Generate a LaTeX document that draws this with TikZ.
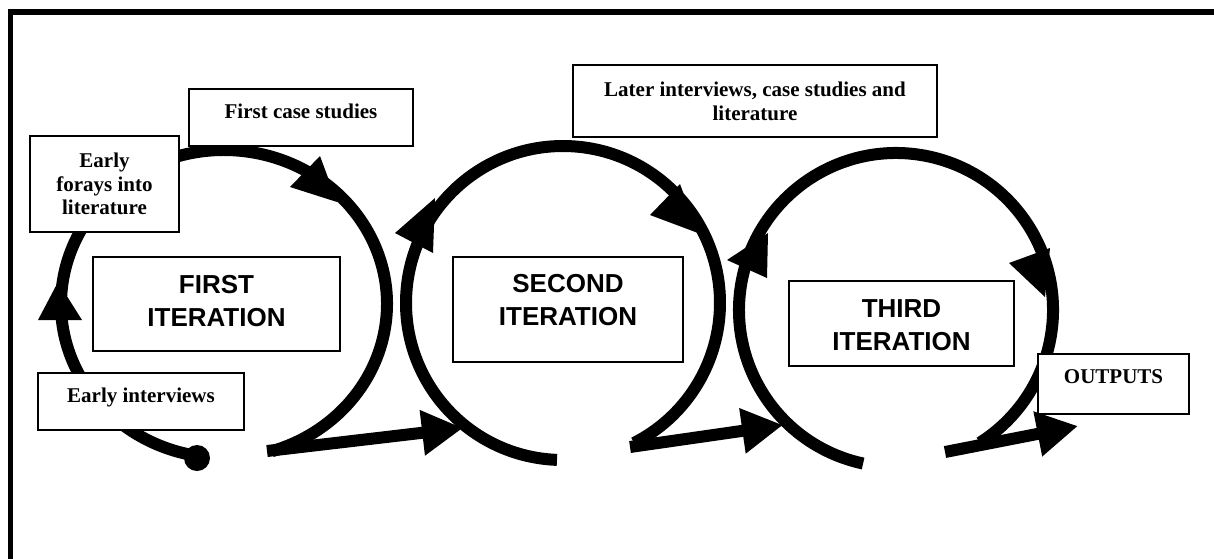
\documentclass[tikz,border=0pt]{standalone}
\usepackage{fontspec}
\setmainfont{Liberation Serif}
\newfontfamily\arialfont{Liberation Sans}
\usetikzlibrary{arrows.meta}
\begin{document}
\begin{tikzpicture}[x=0.5pt,y=-0.5pt,
  box/.style={draw, line width=0.65pt, fill=white, inner sep=0pt, outer sep=0pt},
  tnr/.style={box, font=\fontsize{10.5pt}{11.8pt}\selectfont\bfseries},
  iter/.style={box, font=\fontsize{13pt}{16.5pt}\selectfont\arialfont\bfseries},
  ring/.style={line width=6pt, line cap=butt},
  flow/.style={line width=6pt, line cap=butt, -{Triangle[length=20.5pt,width=21.5pt]}},
  head/.style={fill=black},
  frame/.style={line width=2.8pt}]
\useasboundingbox (0,0) rectangle (1214,558);
% frame (left and top edges only)
\draw[frame] (10.5,600) -- (10.5,12) -- (1240,12);

% ---- first loop ----
\coordinate (dot) at (197,458);
\draw[ring] (224,304) ++(98.5:163 and 154) arc[start angle=98.5, end angle=432.9, x radius=163, y radius=154];
\fill (dot) circle[radius=13];
\fill[head] (38,320) -- (82,320) -- (58,282) -- cycle;
\fill[head] (320,156) -- (290,187) -- (337,202) -- cycle;

% ---- second loop ----
\draw[ring] (563,303) ++(92.2:157) arc[start angle=92.2, end angle=423.1, radius=157];
\fill[head] (395,233) -- (433,253) -- (435,198) -- cycle;
\fill[head] (680,184) -- (650,215) -- (698,233) -- cycle;

% ---- third loop ----
\draw[ring] (896,310) ++(102.1:157) arc[start angle=102.1, end angle=417.7, radius=157];
\fill[head] (727,260) -- (767,278) -- (768,233) -- cycle;
\fill[head] (1009,263) -- (1050,248) -- (1045,297) -- cycle;

% ---- straight connectors ----
\coordinate (l1s) at (267,451);
\coordinate (l1e) at (463,428);
\coordinate (l2s) at (630,447);
\coordinate (l2e) at (783,425);
\coordinate (l3s) at (945,452);
\coordinate (l3e) at (1078,426);
\draw[flow] (l1s) -- (l1e);
\draw[flow] (l2s) -- (l2e);
\draw[flow] (l3s) -- (l3e);

% ---- boxes ----
\node[tnr, minimum width=112pt, minimum height=28.5pt, text height=7pt, text depth=6.5pt] (fcs) at (301,117.5) {First case studies};
\node[tnr, align=center, minimum width=74.5pt, minimum height=48pt] (efl) at (104.5,184) {Early\\forays into\\literature};
\node[tnr, minimum width=103pt, minimum height=28.5pt, text height=7pt, text depth=6pt] (ei) at (141,401.5) {Early interviews};
\node[tnr, align=center, minimum width=182pt, minimum height=36pt, font=\fontsize{10.5pt}{12pt}\selectfont\bfseries] (lat) at (755,101) {Later interviews, case studies and\\literature};
\node[tnr, minimum width=75.5pt, minimum height=30pt, text height=7pt, text depth=8pt] (out) at (1113.5,384) {OUTPUTS};

\node[iter, minimum width=123.5pt, minimum height=47pt, text height=22.3pt, text depth=0pt] (fi) at (216.5,304) {\begin{tabular}[b]{@{}c@{}}FIRST\\ITERATION\end{tabular}};
\node[iter, minimum width=115pt, minimum height=52.5pt, text height=16.3pt, text depth=0pt] (si) at (568,309.5) {\begin{tabular}[b]{@{}c@{}}SECOND\\ITERATION\end{tabular}};
\node[iter, minimum width=112.5pt, minimum height=42.5pt, text height=27.3pt, text depth=0pt] (ti) at (901.5,323.5) {\begin{tabular}[b]{@{}c@{}}THIRD\\ITERATION\end{tabular}};
\end{tikzpicture}
\end{document}
